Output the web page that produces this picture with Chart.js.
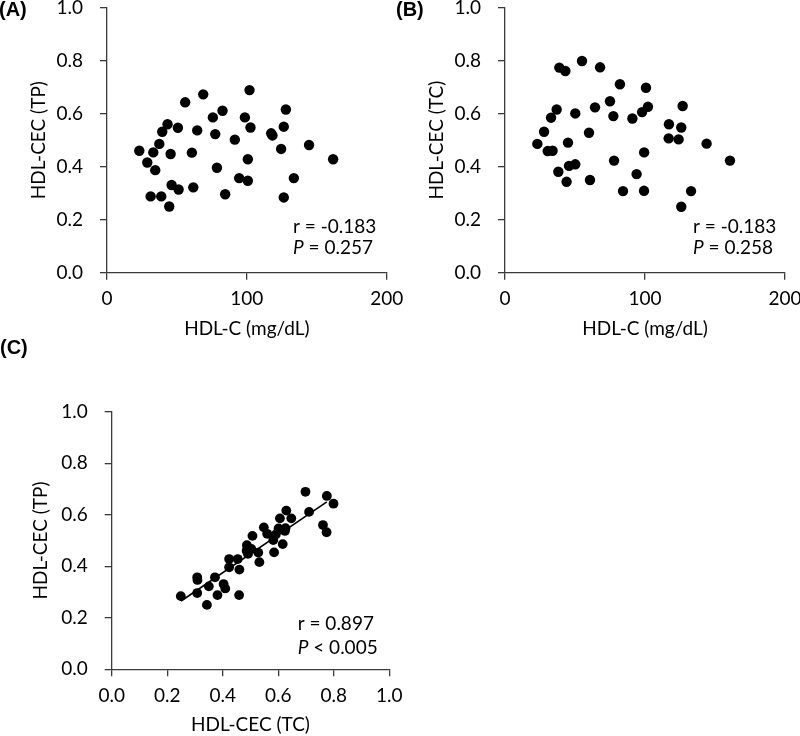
<!DOCTYPE html>
<html>
<head>
<meta charset="utf-8">
<script src="https://cdn.jsdelivr.net/npm/chart.js@4.4.1/dist/chart.umd.min.js"></script>
<style>
  html, body { margin: 0; padding: 0; background: #ffffff; }
  body { width: 800px; height: 736px; position: relative; overflow: hidden; }
  canvas { position: absolute; }
</style>
</head>
<body>
<canvas id="cA" width="410" height="345" style="left:0px;top:0px;"></canvas>
<canvas id="cB" width="410" height="345" style="left:390px;top:0px;"></canvas>
<canvas id="cC" width="420" height="406" style="left:0px;top:330px;"></canvas>
<script>
// ---------- Panel A: HDL-C vs HDL-CEC (TP) ----------
const hdlcA = [23.1, 28.8, 31.2, 33.1, 34.5, 37.4, 38.8, 39.5, 43.3, 44.5,
               45.5, 46.2, 50.7, 51.2, 55.9, 60.7, 61.7, 64.5, 68.8, 75.7,
               77.4, 78.6, 82.6, 84.5, 91.4, 94.5, 98.6, 100.7, 100.7, 101.9,
               102.6, 117.4, 118.3, 124.5, 126.4, 126.4, 127.9, 133.6, 144.5, 161.7];
const cecTP_A = [0.460, 0.416, 0.288, 0.454, 0.387, 0.486, 0.288, 0.532, 0.560, 0.250,
                 0.448, 0.331, 0.547, 0.314, 0.643, 0.453, 0.322, 0.537, 0.673, 0.586,
                 0.523, 0.396, 0.611, 0.296, 0.502, 0.357, 0.586, 0.347, 0.428, 0.689,
                 0.548, 0.526, 0.518, 0.467, 0.551, 0.284, 0.616, 0.357, 0.482, 0.428];

// ---------- Panel B: HDL-C vs HDL-CEC (TC) ----------
const hdlcB = [23.1, 27.9, 30.5, 32.9, 34.0, 36.9, 38.1, 38.8, 43.1, 44.0,
               45.0, 45.7, 50.2, 50.2, 55.0, 60.0, 60.7, 64.3, 67.9, 75.0,
               77.4, 77.9, 82.1, 84.3, 91.0, 94.0, 97.9, 99.3, 99.4, 100.7,
               102.1, 116.9, 117.1, 124.0, 125.9, 125.9, 126.9, 132.9, 144.0, 160.7];
const cecTC_B = [0.486, 0.532, 0.459, 0.585, 0.460, 0.616, 0.381, 0.774, 0.761, 0.343,
                 0.491, 0.403, 0.409, 0.601, 0.799, 0.528, 0.350, 0.624, 0.775, 0.647,
                 0.591, 0.423, 0.711, 0.308, 0.582, 0.372, 0.606, 0.309, 0.454, 0.698,
                 0.626, 0.507, 0.560, 0.503, 0.548, 0.249, 0.629, 0.308, 0.487, 0.423];

// ---------- Panel C: HDL-CEC (TC) vs HDL-CEC (TP) ----------
const cecTC_C = [0.486, 0.532, 0.459, 0.585, 0.460, 0.616, 0.381, 0.774, 0.761, 0.343,
                 0.491, 0.403, 0.601, 0.409, 0.799, 0.528, 0.350, 0.624, 0.775, 0.647,
                 0.591, 0.423, 0.711, 0.308, 0.582, 0.372, 0.606, 0.309, 0.454, 0.698,
                 0.626, 0.560, 0.507, 0.503, 0.548, 0.249, 0.629, 0.308, 0.487, 0.423];
const cecTP_C = [0.460, 0.416, 0.288, 0.454, 0.387, 0.486, 0.288, 0.532, 0.560, 0.250,
                 0.448, 0.331, 0.547, 0.314, 0.643, 0.453, 0.322, 0.537, 0.673, 0.586,
                 0.523, 0.396, 0.611, 0.296, 0.502, 0.357, 0.586, 0.347, 0.428, 0.689,
                 0.548, 0.526, 0.518, 0.467, 0.551, 0.284, 0.616, 0.357, 0.482, 0.428];
const trendTC = [0.250, 0.775];
const trendTP = [0.265, 0.650];

// ---------- Text ----------
const panelLabels = ['(A)', '(B)', '(C)'];
const titleHDLC = 'HDL-C (mg/dL)';
const titleTP = 'HDL-CEC (TP)';
const titleTC = 'HDL-CEC (TC)';
const rTexts = ['r = -0.183', 'r = -0.183', 'r = 0.897'];
const pTexts = [' = 0.257', ' = 0.258', ' < 0.005'];

const FONT = 'Lato, "Open Sans", sans-serif';
const FS = 19;
const AXIS_COLOR = '#3a3a3a';

function pts(xs, ys) { return xs.map((x, i) => ({x: x, y: ys[i]})); }

const notesPlugin = {
  id: 'notes',
  afterDraw(chart, args, o) {
    const ctx = chart.ctx;
    const xs = chart.scales.x, ys = chart.scales.y;
    ctx.save();
    ctx.fillStyle = '#000';
    ctx.textBaseline = 'middle';
    ctx.textAlign = 'left';
    ctx.font = 'bold 20px "Liberation Sans", Arial, sans-serif';
    ctx.fillText(o.panel, o.panelX, o.panelY);
    const x0 = xs.getPixelForValue(o.noteX);
    ctx.font = FS + 'px ' + FONT;
    ctx.fillText(o.rText, x0, ys.getPixelForValue(o.rY));
    const yP = ys.getPixelForValue(o.pY);
    ctx.font = 'italic ' + FS + 'px ' + FONT;
    ctx.fillText('P', x0, yP);
    const w = ctx.measureText('P').width;
    ctx.font = FS + 'px ' + FONT;
    ctx.fillText(o.pText, x0 + w, yP);
    ctx.restore();
  }
};

function xAxis(min, max, step, title, height, titlePadBottom, fmt) {
  return {
    type: 'linear', position: 'bottom', min: min, max: max,
    ticks: { stepSize: step, color: '#000', padding: 8, font: { family: FONT, size: FS },
             maxRotation: 0, autoSkip: false, callback: fmt },
    grid: { display: true, drawOnChartArea: false, drawTicks: true, tickLength: 7,
            color: AXIS_COLOR, lineWidth: 1.3 },
    border: { display: true, color: AXIS_COLOR, width: 1.3 },
    title: { display: true, text: title, color: '#000', font: { family: FONT, size: FS },
             padding: { top: 0, bottom: titlePadBottom } },
    afterFit: s => { s.height = height; s.paddingLeft = 0; s.paddingRight = 0; }
  };
}
function yAxis(title, width, titlePadTop) {
  return {
    type: 'linear', position: 'left', min: 0, max: 1,
    ticks: { stepSize: 0.2, color: '#000', padding: 17, font: { family: FONT, size: FS },
             callback: v => Number(v).toFixed(1) },
    grid: { display: true, drawOnChartArea: false, drawTicks: true, tickLength: 7,
            color: AXIS_COLOR, lineWidth: 1.3 },
    border: { display: true, color: AXIS_COLOR, width: 1.3 },
    title: { display: true, text: title, color: '#000', font: { family: FONT, size: FS },
             padding: { top: titlePadTop, bottom: 0 } },
    afterFit: s => { s.width = width; s.paddingTop = 0; s.paddingBottom = 0; }
  };
}

function makeChart(id, datasets, scales, padding, notes) {
  return new Chart(document.getElementById(id), {
    type: 'scatter',
    data: { datasets: datasets },
    options: {
      responsive: false, animation: false, devicePixelRatio: 1,
      layout: { padding: padding },
      scales: scales,
      plugins: { legend: { display: false }, tooltip: { enabled: false }, notes: notes }
    },
    plugins: [notesPlugin]
  });
}

const dotStyle = { backgroundColor: '#000', borderWidth: 0, pointRadius: 5.2, pointHoverRadius: 5.2 };
const intFmt = v => String(v);
const decFmt = v => Number(v).toFixed(1);

// Panel A
makeChart('cA',
  [Object.assign({ data: pts(hdlcA, cecTP_A) }, dotStyle)],
  { x: xAxis(0, 200, 100, titleHDLC, 72.3, 4.6, intFmt), y: yAxis(titleTP, 107, 27.6) },
  { left: 0, top: 7.7, right: 23.3, bottom: 0 },
  { panel: panelLabels[0], panelX: -1, panelY: 10, noteX: 133, rY: 0.174, pY: 0.093,
    rText: rTexts[0], pText: pTexts[0] });

// Panel B
makeChart('cB',
  [Object.assign({ data: pts(hdlcB, cecTC_B) }, dotStyle)],
  { x: xAxis(0, 200, 100, titleHDLC, 72.3, 4.6, intFmt), y: yAxis(titleTC, 115, 35.6) },
  { left: 0, top: 7.7, right: 15, bottom: 0 },
  { panel: panelLabels[1], panelX: 6, panelY: 10, noteX: 134.3, rY: 0.174, pY: 0.093,
    rText: rTexts[1], pText: pTexts[1] });

// Panel C
makeChart('cC',
  [Object.assign({ data: pts(cecTC_C, cecTP_C) }, dotStyle, { pointRadius: 4.9 }),
   { type: 'line', data: pts(trendTC, trendTP), borderColor: '#000', borderWidth: 1.6,
     pointRadius: 0, showLine: true, fill: false }],
  { x: xAxis(0, 1, 0.2, titleTC, 66.7, 0, decFmt), y: yAxis(titleTP, 111.7, 29.6) },
  { left: 0, top: 81.7, right: 30.7, bottom: 0 },
  { panel: panelLabels[2], panelX: 0, panelY: 18, noteX: 0.67, rY: 0.176, pY: 0.083,
    rText: rTexts[2], pText: pTexts[2] });
</script>
</body>
</html>
